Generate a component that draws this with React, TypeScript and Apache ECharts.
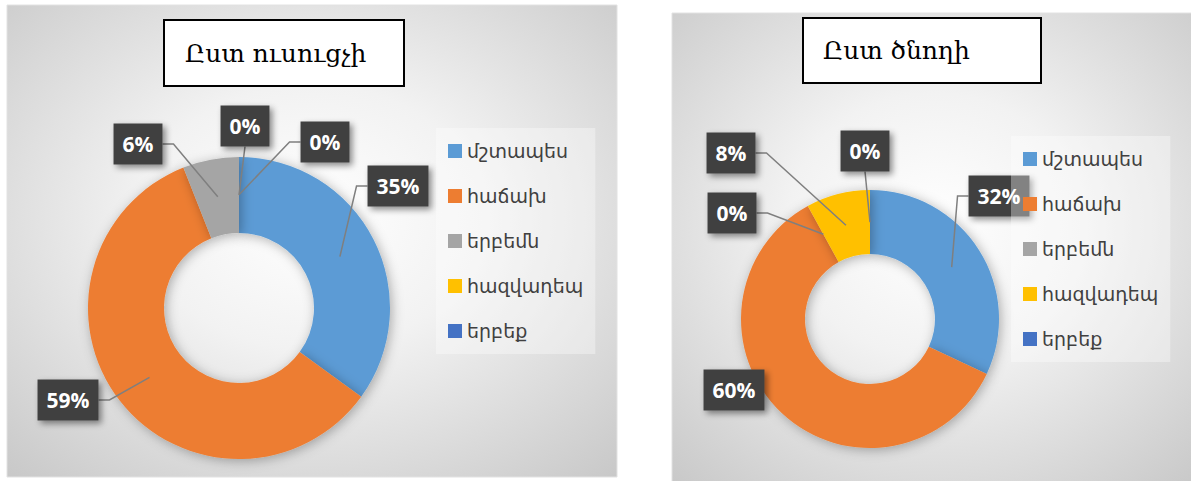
import React, { useEffect, useRef } from "react";
import * as echarts from "echarts";

// ---- data ----
const categories = ["մշտապես", "հաճախ", "երբեմն", "հազվադեպ", "երբեք"];
const teacherValues = [35, 59, 6, 0, 0];
const parentValues = [32, 60, 0, 8, 0];
const teacherTitle = "Ըստ ուսուցչի";
const parentTitle = "Ըստ ծնողի";

// ---- styling / layout ----
const colors = ["#5B9BD5", "#ED7D31", "#A5A5A5", "#FFC000", "#4472C4"];
const teacherCenter = [239, 308];
const parentCenter = [870, 319];
const teacherRadius = [75, 151];
const parentRadius = [65, 129];
const teacherLabelPos = [[398, 186], [68, 400], [138, 144], [245, 126], [325, 142]];
const parentLabelPos = [[999, 196], [734, 390], [732, 213], [731, 153], [865, 151]];
const parentHiddenLines = [1];

function makeLayout(pos: number[][], center: number[]) {
  return (p: any) => {
    const [cx, cy] = pos[p.dataIndex];
    const w = p.labelRect.width;
    const h = p.labelRect.height;
    const left = cx - w / 2;
    const right = cx + w / 2;
    const bottom = cy + h / 2;
    const out: any = { x: cx, y: cy, align: "center", verticalAlign: "middle" };
    const pts = p.labelLinePoints;
    if (pts && pts.length) {
      const p0 = pts[0];
      const s = [
        center[0] + (p0[0] - center[0]) * 0.75,
        center[1] + (p0[1] - center[1]) * 0.75,
      ];
      let line: number[][];
      if (s[0] >= left && s[0] <= right && s[1] > bottom) line = [[cx, bottom], s];
      else if (s[0] > right) line = [[right, cy], [right + 11, cy], s];
      else line = [[left, cy], [left - 11, cy], s];
      out.labelLinePoints = line;
    }
    return out;
  };
}

const labelStyle = {
  show: true,
  position: "outside",
  formatter: "{c}%",
  color: "#ffffff",
  fontFamily: "Open Sans",
  fontWeight: "bold",
  fontSize: 21,
  lineHeight: 21,
  backgroundColor: "#404040",
  padding: [10, 9],
  shadowColor: "rgba(0,0,0,0.45)",
  shadowBlur: 6,
  shadowOffsetX: 3,
  shadowOffsetY: 3,
};

const labelLineStyle = {
  show: true,
  length: 10,
  length2: 10,
  lineStyle: { color: "#7f7f7f", width: 1.5 },
};

function legendFor(left: number, top: number) {
  return {
    data: categories.map((name, i) => ({ name, itemStyle: { color: colors[i] } })),
    orient: "vertical",
    left,
    top,
    icon: "rect",
    itemWidth: 14,
    itemHeight: 14,
    itemGap: 25,
    padding: [13, 12, 13, 12],
    backgroundColor: "rgba(255,255,255,0.35)",
    selectedMode: false,
    textStyle: { fontSize: 19, lineHeight: 20, color: "#404040", fontFamily: "DejaVu Sans" },
  };
}

function panelFill() {
  return new echarts.graphic.RadialGradient(0.5, 0.45, 0.8, [
    { offset: 0, color: "#ffffff" },
    { offset: 0.35, color: "#f2f2f2" },
    { offset: 1, color: "#c3c3c3" },
  ]);
}

function donut(center: number[], radius: number[], values: number[]) {
  return {
    type: "pie",
    z: 2,
    center,
    radius,
    startAngle: 90,
    clockwise: true,
    silent: true,
    itemStyle: { shadowBlur: 12, shadowColor: "rgba(0,0,0,0.3)", shadowOffsetX: 2, shadowOffsetY: 2 },
    label: { show: false },
    labelLine: { show: false },
    data: categories.map((name, i) => ({ name, value: values[i] })),
  };
}

function labelOverlay(center: number[], radius: number[], values: number[], pos: number[][], hidden: number[]) {
  return {
    type: "pie",
    z: 3,
    center,
    radius,
    startAngle: 90,
    clockwise: true,
    silent: true,
    avoidLabelOverlap: false,
    itemStyle: { color: "rgba(0,0,0,0)" },
    label: labelStyle,
    labelLine: labelLineStyle,
    labelLayout: makeLayout(pos, center),
    data: categories.map((name, i) => ({
      name,
      value: values[i],
      labelLine: hidden.includes(i) ? { show: false } : undefined,
    })),
  };
}

export default function App() {
  const ref = useRef<HTMLDivElement>(null);
  useEffect(() => {
    if (!ref.current) return;
    const chart = echarts.init(ref.current, null, { renderer: "svg" });
    chart.setOption({
      animation: false,
      color: colors,
      legend: [legendFor(436, 128), legendFor(1011, 136)],
      graphic: [
        { type: "rect", z: 0, shape: { x: 7, y: 5, width: 610, height: 472 }, style: { fill: panelFill(), stroke: "#e2e2e2", lineWidth: 1 } },
        { type: "rect", z: 0, shape: { x: 672, y: 13, width: 525, height: 472 }, style: { fill: panelFill(), stroke: "#e2e2e2", lineWidth: 1 } },
        { type: "rect", z: 10, shape: { x: 164, y: 20, width: 240, height: 66 }, style: { fill: "#ffffff", stroke: "#000000", lineWidth: 2 } },
        { type: "rect", z: 10, shape: { x: 803, y: 18, width: 238, height: 65 }, style: { fill: "#ffffff", stroke: "#000000", lineWidth: 2 } },
        { type: "text", z: 11, x: 185, y: 53, style: { text: teacherTitle, fill: "#000", font: '25px "DejaVu Serif"', textVerticalAlign: "middle" } },
        { type: "text", z: 11, x: 823, y: 50, style: { text: parentTitle, fill: "#000", font: '25px "DejaVu Serif"', textVerticalAlign: "middle" } },
      ],
      series: [
        donut(teacherCenter, teacherRadius, teacherValues),
        donut(parentCenter, parentRadius, parentValues),
        labelOverlay(teacherCenter, teacherRadius, teacherValues, teacherLabelPos, []),
        labelOverlay(parentCenter, parentRadius, parentValues, parentLabelPos, parentHiddenLines),
      ],
    });
    return () => chart.dispose();
  }, []);
  return (
    <div
      ref={ref}
      style={{ position: "absolute", left: 0, top: 0, width: 1191, height: 481 }}
    />
  );
}
